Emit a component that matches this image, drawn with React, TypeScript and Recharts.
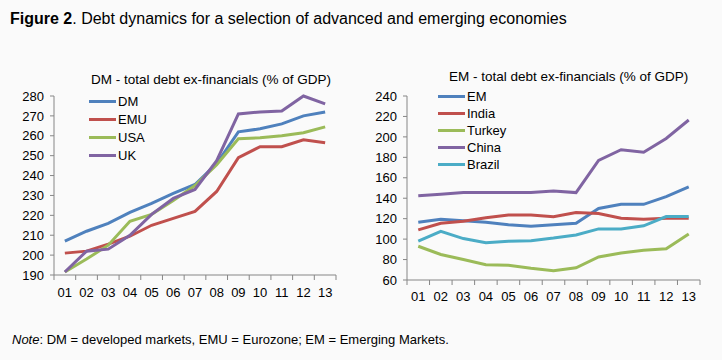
import React from 'react';
import { LineChart, Line, XAxis, YAxis, Legend } from 'recharts';

const years = ['01', '02', '03', '04', '05', '06', '07', '08', '09', '10', '11', '12', '13'];

// DM panel (% of GDP)
const dm = [207, 212, 216, 221.5, 226, 231, 235.5, 246, 262, 263.5, 266, 270, 272];
const emu = [201, 202, 205.5, 209.5, 215, 218.5, 222, 232, 249, 254.5, 254.5, 258, 256.5];
const usa = [191.5, 198, 205, 217, 220.5, 227.5, 235, 245.5, 258.5, 259, 260, 261.5, 264.5];
const uk = [191.5, 202, 203, 210, 220.5, 228.5, 233, 247.5, 271, 272, 272.5, 280, 276];

// EM panel (% of GDP)
const em = [116.5, 119.5, 118, 116.5, 114, 112.5, 114, 115.5, 130, 134, 134, 141.5, 151];
const india = [109, 115.5, 117.5, 121, 123.5, 123.5, 122, 126, 125, 120.5, 119.5, 120.5, 120.5];
const turkey = [93, 85, 80, 75, 74.5, 71.5, 69, 72, 82.5, 86.5, 89, 90.5, 105];
const china = [142.5, 144, 145.5, 145.5, 145.5, 145.5, 147, 145.5, 177, 187.5, 185, 198.5, 216.5];
const brazil = [98, 107.5, 100.5, 96.5, 98, 98.5, 101, 104, 110, 110, 113, 122, 122];

const dmTicks = [190, 200, 210, 220, 230, 240, 250, 260, 270, 280];
const emTicks = [60, 80, 100, 120, 140, 160, 180, 200, 220, 240];

const dmSeries = ['DM', 'EMU', 'USA', 'UK'];
const emSeries = ['EM', 'India', 'Turkey', 'China', 'Brazil'];

const dmData = years.map((y, i) => ({ x: i + 1, DM: dm[i], EMU: emu[i], USA: usa[i], UK: uk[i] }));
const emData = years.map((y, i) => ({
  x: i + 1, EM: em[i], India: india[i], Turkey: turkey[i], China: china[i], Brazil: brazil[i],
}));

const xTicks = years.map((_, i) => i + 1);
const xDomain = [0.5, years.length + 0.5];

const BLUE = '#4F81BD';
const RED = '#C0504D';
const GREEN = '#9BBB59';
const PURPLE = '#8064A2';
const CYAN = '#4BACC6';
const AXIS = '#868686';
const FONT = '"Liberation Sans", Arial, sans-serif';

const tickStyle = { fill: '#000', fontSize: 13, fontFamily: FONT };

// keep the legend in series order (recharts sorts it by name otherwise)
const legendContent = (rowH: number, order: string[]) => (props: any) => {
  const items = [...props.payload].sort((a: any, b: any) => order.indexOf(a.value) - order.indexOf(b.value));
  return (
    <div style={{ fontFamily: FONT, fontSize: 13, color: '#000' }}>
      {items.map((p: any) => (
        <div key={p.value} style={{ display: 'flex', alignItems: 'center', height: rowH }}>
          <span style={{ display: 'inline-block', width: 27, height: 3, background: p.color, marginRight: 2 }} />
          <span>{p.value}</span>
        </div>
      ))}
    </div>
  );
};

// Excel-style category tick: label at the centre, tick marks between categories
const bandTick = (gap: number, plotW: number) => (props: any) => {
  const { x, y, payload, index } = props;
  const w = typeof props.width === 'number' && props.width > 0 ? props.width : plotW;
  const half = w / years.length / 2;
  return (
    <g>
      {index === 0 && <line x1={x - half} x2={x - half} y1={y} y2={y + 5} stroke={AXIS} />}
      <line x1={x + half} x2={x + half} y1={y} y2={y + 5} stroke={AXIS} />
      <text x={x} y={y + gap} textAnchor="middle" dominantBaseline="central" {...tickStyle}>
        {years[payload.value - 1]}
      </text>
    </g>
  );
};

const xAxis = (gap: number, plotW: number) => (
  <XAxis
    type="number"
    dataKey="x"
    domain={xDomain}
    ticks={xTicks}
    height={30}
    stroke={AXIS}
    tickLine={false}
    tickSize={0}
    tickMargin={0}
    tick={bandTick(gap, plotW)}
    interval={0}
    allowDataOverflow
  />
);

const line = (key: string, color: string) => (
  <Line
    key={key}
    type="linear"
    dataKey={key}
    stroke={color}
    strokeWidth={3}
    dot={false}
    isAnimationActive={false}
  />
);

const titleStyle: React.CSSProperties = {
  position: 'absolute', fontFamily: FONT, fontSize: 13.5, color: '#000', whiteSpace: 'nowrap', lineHeight: '16px',
};

export default function App() {
  return (
    <div style={{ position: 'absolute', left: 0, top: 0, width: 722, height: 360, background: '#fafafa', overflow: 'hidden' }}>
      <div style={{ ...titleStyle, left: 10, top: 10, fontSize: 16, lineHeight: '18px' }}>
        <b>Figure 2</b>. Debt dynamics for a selection of advanced and emerging economies
      </div>
      <div style={{ ...titleStyle, left: 91, top: 72 }}>DM - total debt ex-financials (% of GDP)</div>
      <div style={{ ...titleStyle, left: 449, top: 69 }}>EM - total debt ex-financials (% of GDP)</div>

      <div style={{ position: 'absolute', left: 0, top: 0 }}>
        <LineChart width={361} height={320} data={dmData} margin={{ top: 96, right: 25, left: 0, bottom: 15 }}>
          {xAxis(17, 282)}
          <YAxis
            type="number"
            domain={[190, 280]}
            ticks={dmTicks}
            width={54}
            stroke={AXIS}
            tickSize={4}
            tickMargin={6}
            tick={tickStyle}
            interval={0}
          />
          {line('DM', BLUE)}
          {line('EMU', RED)}
          {line('USA', GREEN)}
          {line('UK', PURPLE)}
          <Legend
            layout="vertical"
            align="center"
            verticalAlign="middle"
            content={legendContent(18, dmSeries)}
            wrapperStyle={{ left: 89, top: 92, width: 'auto' }}
          />
        </LineChart>
      </div>

      <div style={{ position: 'absolute', left: 361, top: 0 }}>
        <LineChart width={361} height={320} data={emData} margin={{ top: 96, right: 22, left: 0, bottom: 10 }}>
          {xAxis(16, 293)}
          <YAxis
            type="number"
            domain={[60, 240]}
            ticks={emTicks}
            width={46}
            stroke={AXIS}
            tickSize={4}
            tickMargin={6}
            tick={tickStyle}
            interval={0}
          />
          {line('EM', BLUE)}
          {line('India', RED)}
          {line('Turkey', GREEN)}
          {line('China', PURPLE)}
          {line('Brazil', CYAN)}
          <Legend
            layout="vertical"
            align="center"
            verticalAlign="middle"
            content={legendContent(17, emSeries)}
            wrapperStyle={{ left: 77, top: 88, width: 'auto' }}
          />
        </LineChart>
      </div>

      <div style={{ ...titleStyle, left: 12, top: 332, fontSize: 13 }}>
        <i>Note</i>: DM = developed markets, EMU = Eurozone; EM = Emerging Markets.
      </div>
    </div>
  );
}
